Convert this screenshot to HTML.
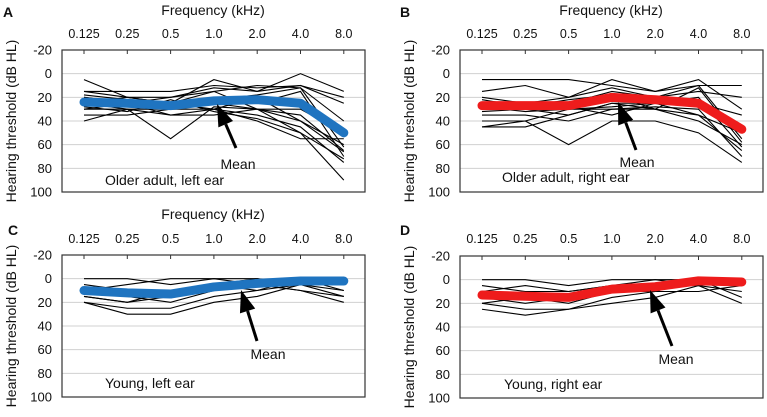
<!DOCTYPE html>
<html><head><meta charset="utf-8"><style>
html,body{margin:0;padding:0;background:#fff;}
svg{display:block;font-family:"Liberation Sans",Arial,sans-serif;}
</style></head><body>
<svg id="fig" width="767" height="417" viewBox="0 0 767 417" xmlns="http://www.w3.org/2000/svg"></svg>
<script>
const freqLabels=["0.125","0.25","0.5","1.0","2.0","4.0","8.0"];
const yTicks=[-20,0,20,40,60,80,100];
const meanA=[24,25,27,23,22,25,50];
const meanB=[27,27,27,20,22,25,47];
const meanC=[10,12,13,7,4,2,2];
const meanD=[13,14,15,8,6,1,2];
const indA=[[5,20,25,5,15,0,15],[15,15,15,10,12,10,20],[15,20,20,12,15,10,25],[20,25,20,15,10,12,40],[25,30,55,28,30,35,65],[30,25,35,30,35,45,75],[35,35,30,25,30,50,90],[40,30,30,30,20,40,60],[20,25,30,20,25,15,70],[25,20,25,30,40,55,55],[30,30,35,35,30,30,50],[18,22,28,22,18,12,62],[22,28,25,15,30,40,66],[28,32,22,32,38,50,72]];
const indB=[[5,5,5,10,15,5,30],[15,10,20,5,15,10,10],[20,25,20,12,20,15,20],[30,30,35,25,25,25,35],[45,40,60,40,40,50,75],[35,35,40,30,30,35,65],[45,45,35,25,30,40,60],[25,30,25,15,20,10,55],[28,32,30,30,28,30,70],[32,30,28,35,25,20,62],[40,40,30,28,25,35,50],[22,28,22,18,30,12,58]];
const indC=[[0,0,5,0,5,10,20],[5,10,10,5,0,5,15],[15,20,15,10,5,0,5],[20,25,25,15,10,5,10],[20,30,30,20,15,5,0],[10,5,0,0,0,5,5],[15,20,10,5,10,0,10],[12,15,20,10,5,10,15]];
const indD=[[0,0,5,0,0,5,10],[5,10,10,5,5,0,15],[20,25,25,20,15,5,20],[25,30,25,15,10,0,5],[15,20,15,10,10,10,5],[20,15,20,10,5,5,0],[10,5,10,5,0,0,5]];
const S="http://www.w3.org/2000/svg";
const svg=document.getElementById('fig');
function mk(tag,attrs,parent,text){const e=document.createElementNS(S,tag);for(const k in attrs)e.setAttribute(k,attrs[k]);if(text!==undefined)e.textContent=text;(parent||svg).appendChild(e);return e;}
function panel(o){
  const g=mk('g',{});
  
  
  const x0=o.bx, x1=o.bx+303, top=o.top;
  const xs=i=>o.bx+22+i*43.3;
  const ys=v=>top+(v+20)/120*142;
  yTicks.forEach(t=>{
    if(t!==-20&&t!==100){const l=mk('line',{x1:x0,x2:x1,y1:ys(t),y2:ys(t),stroke:'#d0d0d0','stroke-width':1},g);
    }
    const tx=mk('text',{x:x0-10,y:ys(t)+4.5,'text-anchor':'end','font-size':13,fill:'#111'},g,String(t));
    
  });
  const r=mk('rect',{x:x0,y:top,width:303,height:142,fill:'none',stroke:'#333','stroke-width':1.2},g);
  
  freqLabels.forEach((f,i)=>{
    mk('line',{x1:xs(i),x2:xs(i),y1:top,y2:top+4,stroke:'#333'},g);
    const t=mk('text',{x:xs(i),y:o.tickY,'text-anchor':'middle','font-size':12.5,fill:'#111'},g,f);
    
  });
  o.ind.forEach(arr=>{
    const p=mk('polyline',{points:arr.map((v,i)=>xs(i)+','+ys(v)).join(' '),fill:'none',stroke:'#000','stroke-width':1.1},g);
    
  });
  const m=mk('polyline',{points:o.mean.map((v,i)=>xs(i)+','+ys(v)).join(' '),fill:'none',stroke:o.color,'stroke-width':9,'stroke-linecap':'round','stroke-linejoin':'round'},g);
  
  const a=o.arrow;
  const dx=a[2]-a[0],dy=a[3]-a[1],L=Math.hypot(dx,dy),ux=dx/L,uy=dy/L;
  const bx=a[2]-ux*22,by=a[3]-uy*22;
  const ar=mk('g',{},g);
  mk('line',{x1:a[0],y1:a[1],x2:bx,y2:by,stroke:'#000','stroke-width':3},ar);
  mk('polygon',{points:`${a[2]},${a[3]} ${bx-uy*8},${by+ux*8} ${bx+uy*8},${by-ux*8}`,fill:'#000'},ar);
  const mt=mk('text',{x:o.meanT[0],y:o.meanT[1],'text-anchor':'middle','font-size':14,fill:'#111'},g,'Mean');
  
  const lb=mk('text',{x:o.lab[0],y:o.lab[1],'font-size':14,fill:'#111'},g,o.label);
  
  const yt=mk('text',{x:0,y:0,'text-anchor':'middle','font-size':14,fill:'#111',transform:`translate(${o.ytx},${top+71}) rotate(-90)`},g,'Hearing threshold (dB HL)');
  
  if(o.ftY){const ft=mk('text',{x:x0+151,y:o.ftY,'text-anchor':'middle','font-size':14,fill:'#111'},g,'Frequency (kHz)');
  }
  const pl=mk('text',{x:o.lp[0],y:o.lp[1],'font-size':14,'font-weight':'bold',fill:'#111'},g,o.letter);
  
}
panel({letter:'A',bx:62,top:50,tickY:38,ftY:15,ind:indA,mean:meanA,color:'#1f74c0',arrow:[236,148,217,104],meanT:[238,169],lab:[105,185],label:'Older adult, left ear',ytx:16,lp:[3,17]});
panel({letter:'B',bx:460,top:50,tickY:38,ftY:15,ind:indB,mean:meanB,color:'#ee1c1c',arrow:[636,150,618,102],meanT:[637,167],lab:[502,182],label:'Older adult, right ear',ytx:414,lp:[400,17]});
panel({letter:'C',bx:62,top:255,tickY:243,ftY:219,ind:indC,mean:meanC,color:'#1f74c0',arrow:[257,341,241,290],meanT:[268,359],lab:[105,388],label:'Young, left ear',ytx:16,lp:[8,235]});
panel({letter:'D',bx:460,top:256,tickY:243,ftY:null,ind:indD,mean:meanD,color:'#ee1c1c',arrow:[672,346,650,290],meanT:[676,364],lab:[504,389],label:'Young, right ear',ytx:414,lp:[400,235]});
</script>
</body></html>
